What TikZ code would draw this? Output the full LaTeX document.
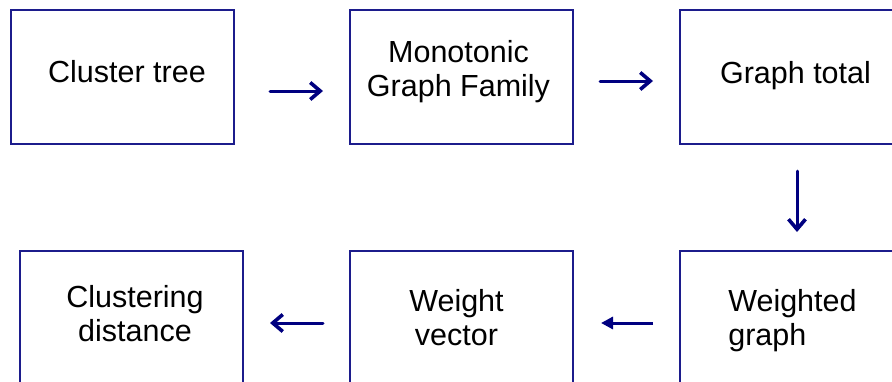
\documentclass[tikz,border=0pt]{standalone}
\usepackage{fontspec}
\setmainfont{Liberation Sans}
\usetikzlibrary{arrows.meta}
\definecolor{boxline}{RGB}{28,28,140}
\definecolor{arrowblue}{RGB}{0,0,128}
\begin{document}
\begin{tikzpicture}[x=1pt,y=-1pt,
  stepbox/.style={draw=boxline,line width=1.3pt,rectangle,inner sep=0pt,outer sep=0pt,
    minimum width=223pt,minimum height=134pt},
  lbl/.style={font=\fontsize{30.5}{34}\selectfont,inner sep=0pt,outer sep=0pt,text=black},
  arrv/.style={draw=arrowblue,line width=3pt,line cap=round,
    -{Straight Barb[length=10pt,width=17pt,line width=3.6pt]}},
  arrf/.style={draw=arrowblue,line width=3pt,-{Triangle[length=12pt,width=12pt]}}]
  \fill[white] (0,0) rectangle (892,381);
  \clip (0,0) rectangle (892,381);
  % boxes
  \node[stepbox] (b1) at (122.5,77) {};
  \node[stepbox] (b2) at (461.5,77) {};
  \node[stepbox,minimum width=225pt] (b3) at (792.5,77) {};
  \node[stepbox,minimum height=139pt] (b4) at (131.5,320.5) {};
  \node[stepbox,minimum height=139pt] (b5) at (461.5,320.5) {};
  \node[stepbox,minimum width=225pt,minimum height=139pt] (b6) at (792.5,320.5) {};
  % labels (multi-line labels sit on the baseline of their last line)
  \node[lbl,anchor=base] (t1) at (127,82) {Cluster tree};
  \node[lbl,anchor=base,align=center] (t2) at (458.5,96.7) {Monotonic\\Graph Family};
  \node[lbl,anchor=base] (t3) at (795.5,83) {Graph total};
  \node[lbl,anchor=base,align=center] (t4) at (135,341.7) {Clustering\\distance};
  \node[lbl,anchor=base,align=center] (t5) at (456.5,345.7) {Weight\\vector};
  \node[lbl,anchor=base west,align=left] (t6) at (728.3,345.7) {Weighted\\graph};
  % connectors
  \coordinate (a1s) at (270,91);  \coordinate (a1e) at (323,91);
  \coordinate (a2s) at (600,81);  \coordinate (a2e) at (653,81);
  \coordinate (a3s) at (797,171); \coordinate (a3e) at (797,232);
  \coordinate (a4s) at (653,323); \coordinate (a4e) at (601,323);
  \coordinate (a5s) at (323,323); \coordinate (a5e) at (270,323);
  \draw[arrv] (a1s) -- (a1e);
  \draw[arrv] (a2s) -- (a2e);
  \draw[arrv] (a3s) -- (a3e);
  \draw[arrf] (a4s) -- (a4e);
  \draw[arrv] (a5s) -- (a5e);
\end{tikzpicture}
\end{document}
